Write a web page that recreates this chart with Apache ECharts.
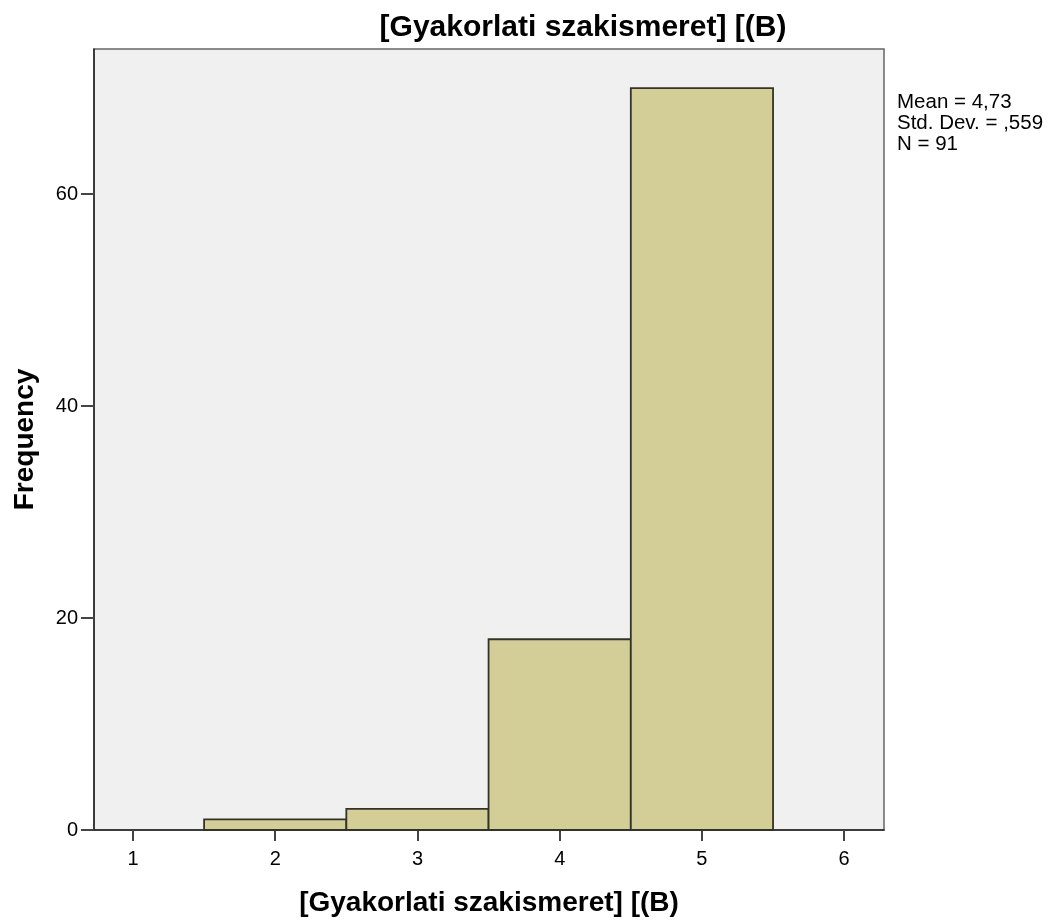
<!DOCTYPE html>
<html><head><meta charset="utf-8">
<script src="https://cdn.jsdelivr.net/npm/echarts@6/dist/echarts.min.js"></script>
<style>html,body{margin:0;padding:0;background:#fff}#c{width:1051px;height:923px}</style>
</head><body><div id="c"></div>
<script>
const titleText = "[Gyakorlati szakismeret] [(B)";
const xAxisTitle = "[Gyakorlati szakismeret] [(B)";
const yAxisTitle = "Frequency";
const binCenters = [2, 3, 4, 5];
const counts = [1, 2, 18, 70];
const xTicks = [1, 2, 3, 4, 5, 6];
const yTicks = [0, 20, 40, 60];
const statsLines = ["Mean = 4,73", "Std. Dev. = ,559", "N = 91"];

const chart = echarts.init(document.getElementById('c'), null, {renderer: 'canvas'});
const font = '"Liberation Sans", Arial, sans-serif';
chart.setOption({
  animation: false,
  backgroundColor: '#fff',
  title: {
    text: titleText, left: 578, top: 8, textAlign: 'center',
    textStyle: {fontFamily: font, fontWeight: 'bold', fontSize: 30, color: '#000'}
  },
  graphic: [{
    type: 'text', left: 897, top: 92,
    style: {text: statsLines.join('\n'), font: '20.5px ' + font, lineHeight: 21, fill: '#000'}
  }],
  grid: {left: 94, top: 49, right: 167, bottom: 93, show: true, backgroundColor: '#f0f0f0', borderColor: '#666', borderWidth: 1.5},
  xAxis: {
    type: 'value', min: 0.726, max: 6.28,
    name: xAxisTitle, nameLocation: 'middle', nameGap: 59,
    nameTextStyle: {fontFamily: font, fontWeight: 'bold', fontSize: 28, color: '#000'},
    axisLine: {show: true, lineStyle: {color: '#222', width: 1.5}},
    axisTick: {show: true, length: 11, customValues: xTicks, lineStyle: {color: '#444', width: 2}},
    axisLabel: {customValues: xTicks, margin: 19, fontFamily: font, fontSize: 20, color: '#000'},
    splitLine: {show: false}
  },
  yAxis: {
    type: 'value', min: 0, max: 73.7,
    name: yAxisTitle, nameLocation: 'middle', nameGap: 55, nameRotate: 90,
    nameTextStyle: {fontFamily: font, fontWeight: 'bold', fontSize: 28, color: '#000'},
    axisLine: {show: true, lineStyle: {color: '#222', width: 1.5}},
    axisTick: {show: true, length: 13, customValues: yTicks, lineStyle: {color: '#444', width: 2}},
    axisLabel: {customValues: yTicks, margin: 16, fontFamily: font, fontSize: 20, color: '#000'},
    splitLine: {show: false}
  },
  series: [{
    type: 'custom',
    data: binCenters.map((c, i) => [c, counts[i]]),
    renderItem: function (params, api) {
      const x = api.value(0), y = api.value(1);
      const p1 = api.coord([x - 0.5, y]);
      const p2 = api.coord([x + 0.5, 0]);
      return {
        type: 'rect',
        shape: {x: p1[0], y: p1[1], width: p2[0] - p1[0], height: p2[1] - p1[1]},
        style: {fill: '#d3ce98', stroke: '#333328', lineWidth: 1.8}
      };
    }
  }]
});
</script></body></html>
